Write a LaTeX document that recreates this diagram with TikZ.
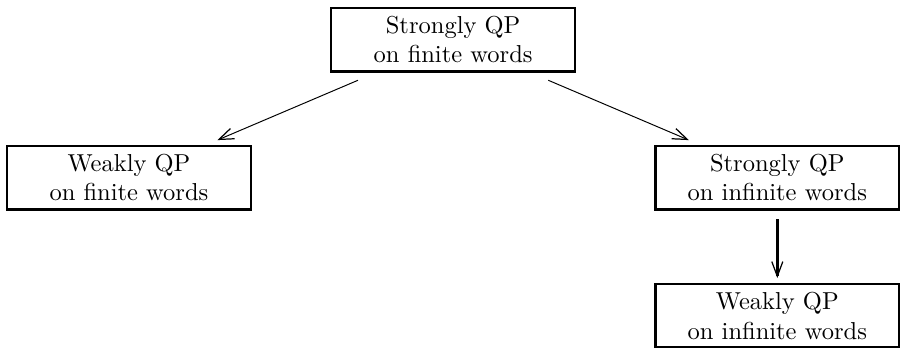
\documentclass[tikz,border=0pt]{standalone}
\usepackage{tikz}
\usetikzlibrary{positioning}
\usetikzlibrary{arrows.meta}
\tikzset{
	qp node/.style={rectangle,draw,line width=1pt,align=center,minimum width=3.5cm}
}
\begin{document}
\begin{tikzpicture}[->,>={Straight Barb[length=6pt,width=4.5pt,line width=0.5pt]},
	    node distance=1.98cm and 4.65cm, on grid]
	    \useasboundingbox (-6.50,0.57) rectangle (6.41,-4.42);
	    \node [qp node] (sf) {Strongly QP\\on finite words};
	    \node [qp node,below left=of sf] (wf) {Weakly QP\\on finite words};
	    \node [qp node,below right=of sf] (si) {Strongly QP\\on infinite words};
	    \node [qp node,below=of si] (wi) {Weakly QP\\on infinite words};
	    \draw [shorten <=8pt,shorten >=5pt] (sf) -- (wf);
	    \draw [shorten <=8pt,shorten >=5pt] (sf) -- (si);
	    \draw [line width=1pt,shorten <=3.5pt,shorten >=2pt] (si) -- (wi);
\end{tikzpicture}
\end{document}
